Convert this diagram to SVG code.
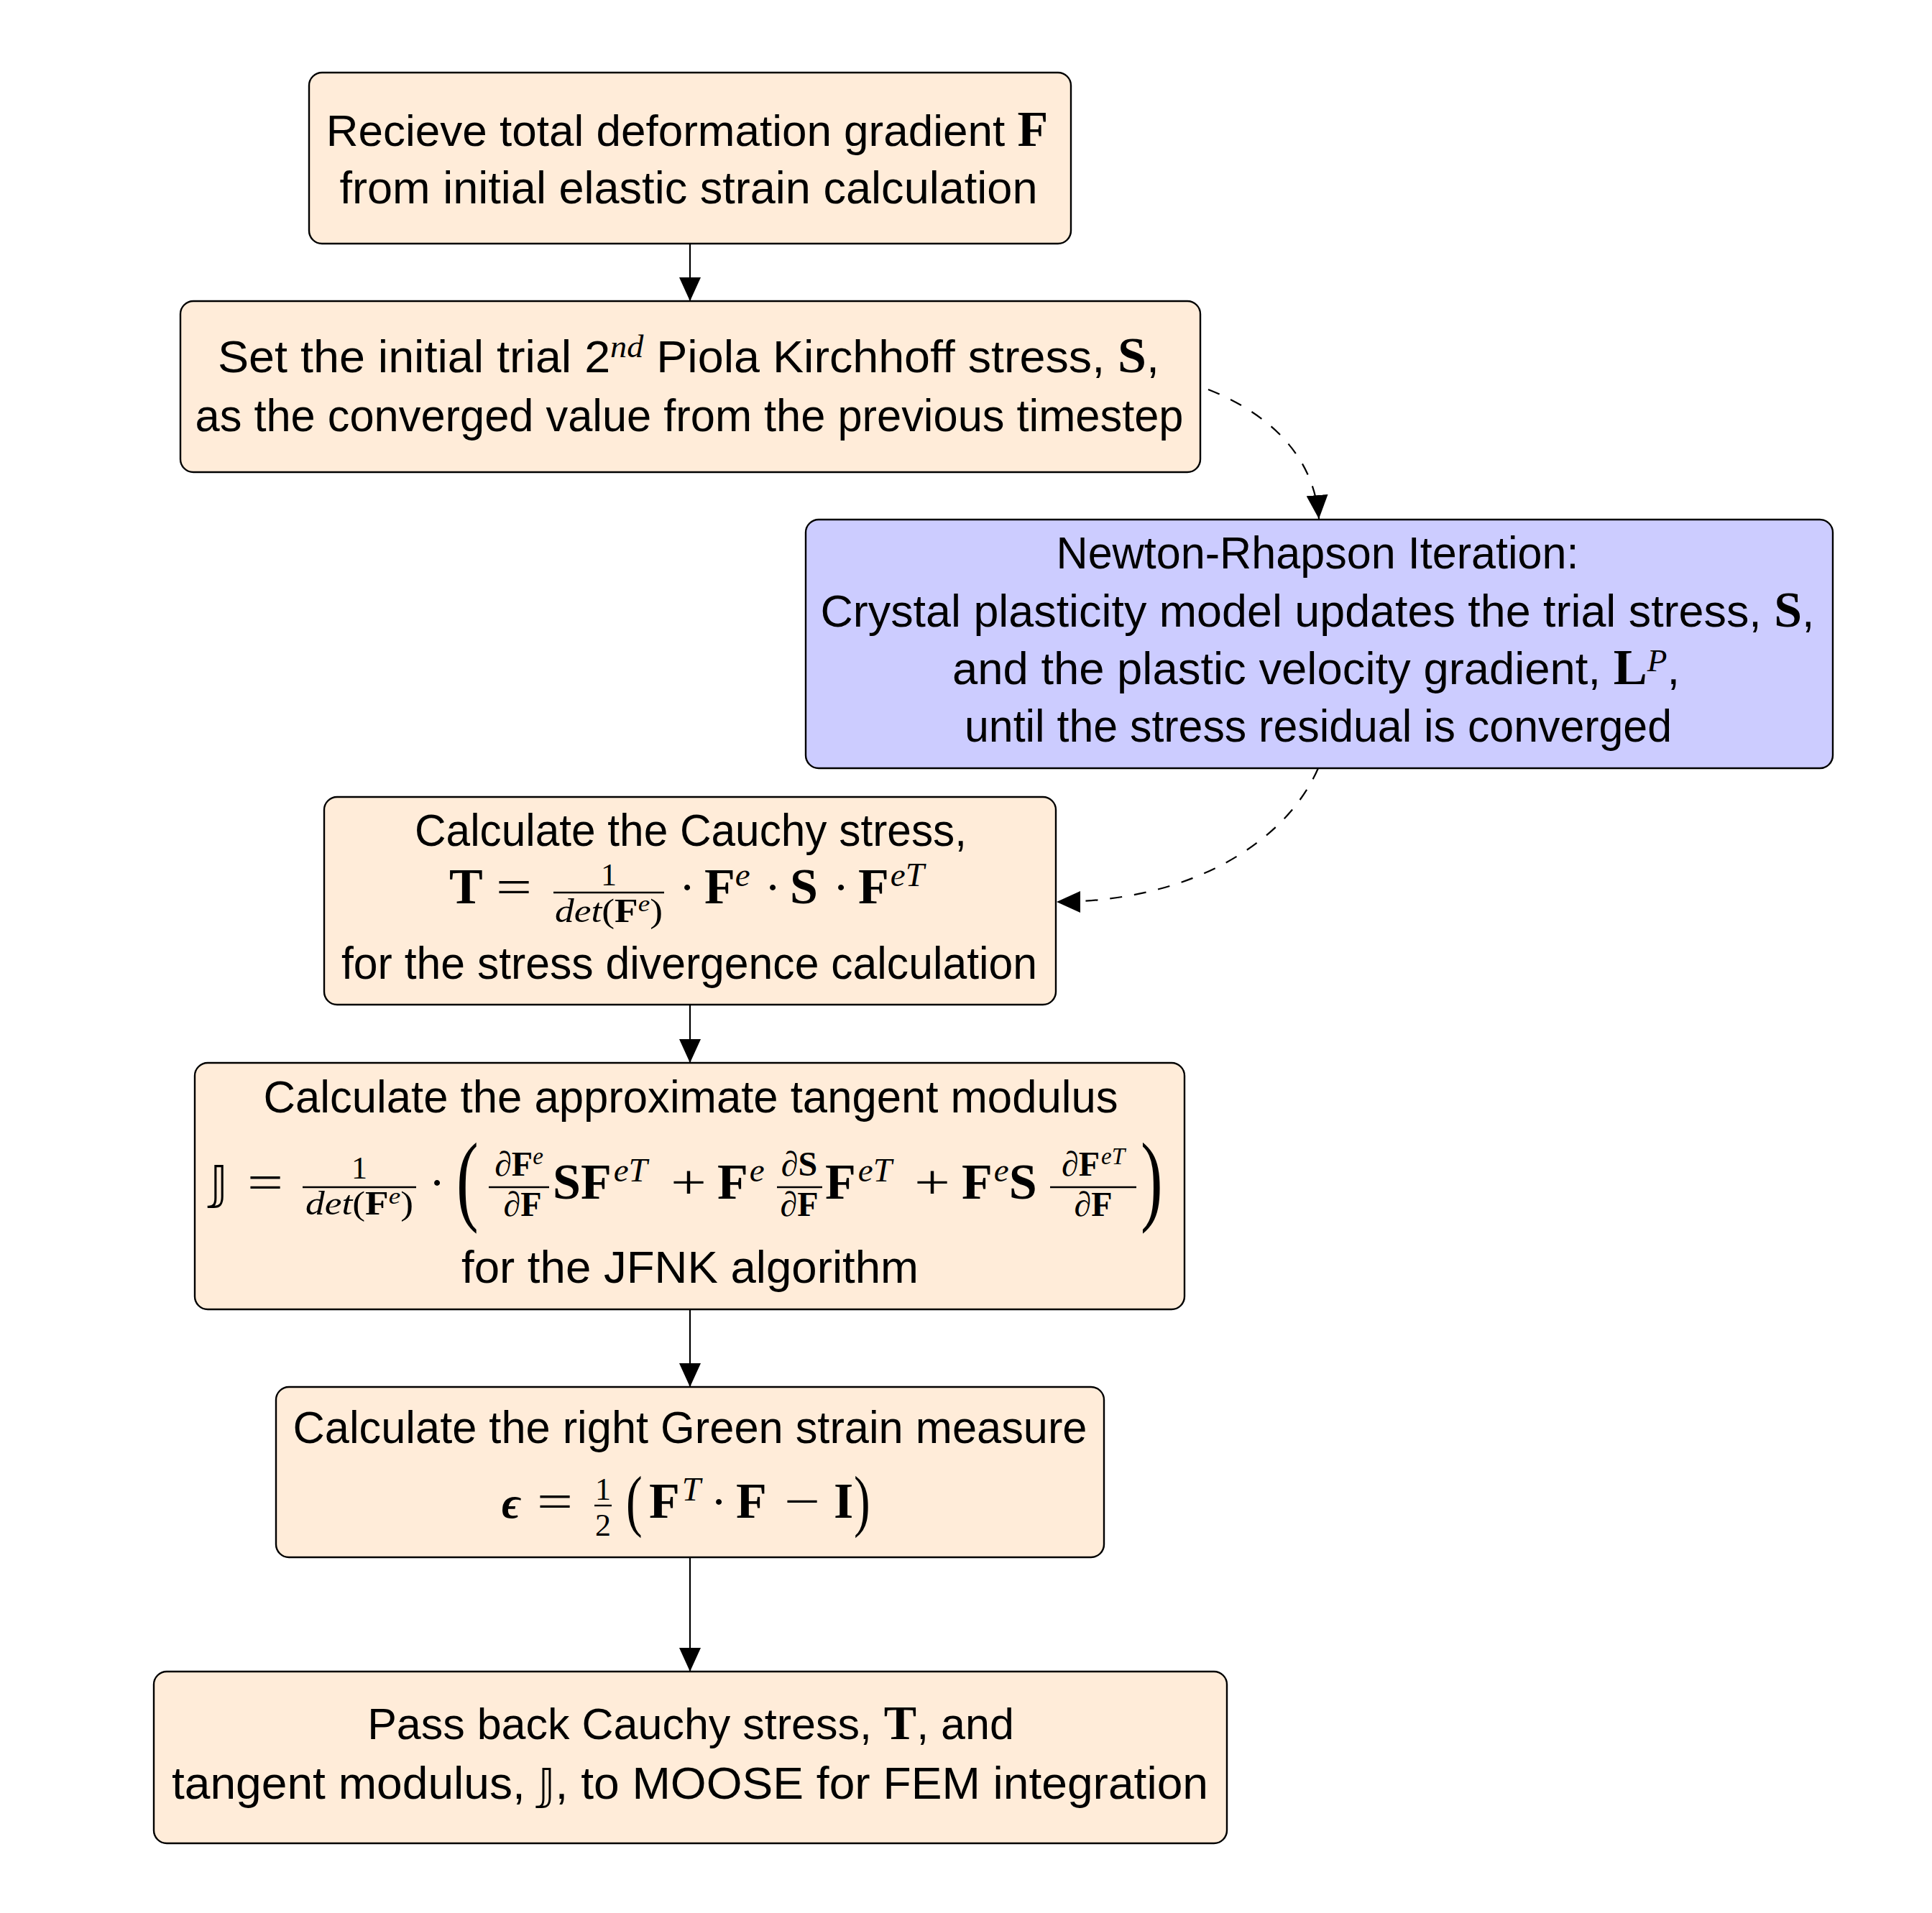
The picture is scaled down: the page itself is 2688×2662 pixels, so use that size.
<svg xmlns="http://www.w3.org/2000/svg" width="2688" height="2662" viewBox="0 0 2688 2662">
<defs>
<style>
.box{stroke:#000;stroke-width:2.4}
.peach{fill:#FFECD9}
.blue{fill:#CCCCFF}
text{fill:#000}
.t{font-family:"Liberation Sans",Arial,sans-serif;font-size:63px;text-anchor:middle}
.b{font-family:"Liberation Serif","Times New Roman",serif;font-weight:bold;font-style:normal}
.i{font-family:"Liberation Serif","Times New Roman",serif;font-style:italic;font-weight:normal}
.r{font-family:"Liberation Serif","Times New Roman",serif;font-weight:normal;font-style:normal}
.bb{font-family:"DejaVu Sans","DejaVu Serif",sans-serif;font-weight:normal}
.eps{font-family:"Liberation Serif","DejaVu Serif",serif;font-weight:bold;font-style:italic}
.mid{text-anchor:middle}
.conn{fill:none;stroke:#000;stroke-width:2.2}
.dash{stroke-dasharray:17 17}
.frac{stroke:#000;stroke-width:2.4}
</style>
<marker id="ah" markerUnits="userSpaceOnUse" markerWidth="34" markerHeight="30" refX="33" refY="15" orient="auto" viewBox="0 0 34 30"><path d="M0,0 L33,15 L0,30 z" fill="#000"/></marker>
</defs>
<rect width="2688" height="2662" fill="#fff"/>

<g id="connectors">
<path class="conn" d="M960,339 L960,419" marker-end="url(#ah)"/>
<path class="conn dash" d="M1681,542 C1757,572 1828,628 1835,722" marker-end="url(#ah)"/>
<path class="conn dash" d="M1834,1069 C1790,1170 1660,1255 1470,1255" marker-end="url(#ah)"/>
<path class="conn" d="M960,1398 L960,1479" marker-end="url(#ah)"/>
<path class="conn" d="M960,1822 L960,1930" marker-end="url(#ah)"/>
<path class="conn" d="M960,2167 L960,2326" marker-end="url(#ah)"/>
</g>

<g id="n1">
<rect class="box peach" x="430" y="101" width="1060" height="238" rx="18"/>
<text class="t" x="956" y="203" font-size="62" style="font-size:62px">Recieve total deformation gradient <tspan class="b" font-size="70">F</tspan></text>
<text class="t" x="958" y="283" textLength="971" lengthAdjust="spacingAndGlyphs">from initial elastic strain calculation</text>
</g>

<g id="n2">
<rect class="box peach" x="251" y="419" width="1419" height="238" rx="18"/>
<text class="t" x="958" y="518" textLength="1310" lengthAdjust="spacingAndGlyphs">Set the initial trial 2<tspan class="i" font-size="45" dy="-21">nd</tspan><tspan dy="21"> Piola Kirchhoff stress, </tspan><tspan class="b" font-size="70">S</tspan>,</text>
<text class="t" x="959" y="600" textLength="1375" lengthAdjust="spacingAndGlyphs">as the converged value from the previous timestep</text>
</g>

<g id="n3">
<rect class="box blue" x="1121" y="723" width="1429" height="346" rx="18"/>
<text class="t" x="1833" y="791" textLength="727" lengthAdjust="spacingAndGlyphs">Newton-Rhapson Iteration:</text>
<text class="t" x="1833" y="872" textLength="1383" lengthAdjust="spacingAndGlyphs">Crystal plasticity model updates the trial stress, <tspan class="b" font-size="70">S</tspan>,</text>
<text class="t" x="1831" y="952" textLength="1012" lengthAdjust="spacingAndGlyphs">and the plastic velocity gradient, <tspan class="b" font-size="70">L</tspan><tspan class="i" font-size="45" dy="-18">P</tspan><tspan dy="18">,</tspan></text>
<text class="t" x="1834" y="1032" textLength="984" lengthAdjust="spacingAndGlyphs">until the stress residual is converged</text>
</g>

<g id="n4">
<rect class="box peach" x="451" y="1109" width="1018" height="289" rx="18"/>
<text class="t" x="961" y="1177" textLength="768" lengthAdjust="spacingAndGlyphs">Calculate the Cauchy stress,</text>
<text class="b" x="625" y="1257" font-size="70">T</text>
<text class="r mid" x="715" y="1257" font-size="68" textLength="50" lengthAdjust="spacingAndGlyphs">=</text>
<text class="r mid" x="847" y="1232" font-size="44">1</text>
<line class="frac" x1="770" y1="1242" x2="924" y2="1242"/>
<text x="847" y="1283" font-size="46" class="mid" textLength="150" lengthAdjust="spacingAndGlyphs"><tspan class="i">det</tspan><tspan class="r">(</tspan><tspan class="b">F</tspan><tspan class="i" font-size="32" dy="-15">e</tspan><tspan class="r" dy="15">)</tspan></text>
<text class="r mid" x="956" y="1257" font-size="68">·</text>
<text x="980" y="1257" font-size="70"><tspan class="b">F</tspan><tspan class="i" font-size="47" dy="-24">e</tspan></text>
<text class="r mid" x="1075" y="1257" font-size="68">·</text>
<text class="b" x="1099" y="1257" font-size="70">S</text>
<text class="r mid" x="1170" y="1257" font-size="68">·</text>
<text x="1194" y="1257" font-size="70"><tspan class="b">F</tspan><tspan class="i" font-size="47" dy="-24" dx="2">eT</tspan></text>
<text class="t" x="959" y="1362" textLength="968" lengthAdjust="spacingAndGlyphs">for the stress divergence calculation</text>
</g>

<g id="n5">
<rect class="box peach" x="271" y="1479" width="1377" height="343" rx="18"/>
<text class="t" x="961" y="1548" textLength="1189" lengthAdjust="spacingAndGlyphs">Calculate the approximate tangent modulus</text>
<text class="bb" x="292" y="1668" font-size="64">𝕁</text>
<text class="r mid" x="369" y="1668" font-size="68" textLength="50" lengthAdjust="spacingAndGlyphs">=</text>
<text class="r mid" x="500" y="1640" font-size="44">1</text>
<line class="frac" x1="421" y1="1652" x2="579" y2="1652"/>
<text x="500" y="1690" font-size="46" class="mid" textLength="150" lengthAdjust="spacingAndGlyphs"><tspan class="i">det</tspan><tspan class="r">(</tspan><tspan class="b">F</tspan><tspan class="i" font-size="32" dy="-15">e</tspan><tspan class="r" dy="15">)</tspan></text>
<text class="r mid" x="608" y="1668" font-size="68">·</text>
<text class="r" font-size="80" transform="translate(635,1687) scale(1.15,1.75)">(</text>
<text x="722" y="1636" font-size="48" class="mid"><tspan class="r">∂</tspan><tspan class="b">F</tspan><tspan class="i" font-size="33" dy="-16">e</tspan></text>
<line class="frac" x1="680" y1="1652" x2="764" y2="1652"/>
<text x="727" y="1692" font-size="48" class="mid"><tspan class="r">∂</tspan><tspan class="b">F</tspan></text>
<text y="1668" font-size="70"><tspan class="b" x="769">SF</tspan><tspan class="i" font-size="47" dy="-24" dx="3">eT</tspan></text>
<text class="r mid" x="958" y="1668" font-size="68" textLength="50" lengthAdjust="spacingAndGlyphs">+</text>
<text y="1668" font-size="70"><tspan class="b" x="998">F</tspan><tspan class="i" font-size="47" dy="-24" dx="2">e</tspan></text>
<text x="1112" y="1636" font-size="48" class="mid"><tspan class="r">∂</tspan><tspan class="b">S</tspan></text>
<line class="frac" x1="1081" y1="1652" x2="1144" y2="1652"/>
<text x="1112" y="1692" font-size="48" class="mid"><tspan class="r">∂</tspan><tspan class="b">F</tspan></text>
<text y="1668" font-size="70"><tspan class="b" x="1148">F</tspan><tspan class="i" font-size="47" dy="-24" dx="3">eT</tspan></text>
<text class="r mid" x="1297" y="1668" font-size="68" textLength="50" lengthAdjust="spacingAndGlyphs">+</text>
<text y="1668" font-size="70"><tspan class="b" x="1338">F</tspan><tspan class="i" font-size="47" dy="-24" dx="2">e</tspan><tspan class="b" dy="24">S</tspan></text>
<text x="1521" y="1636" font-size="48" class="mid"><tspan class="r">∂</tspan><tspan class="b">F</tspan><tspan class="i" font-size="33" dy="-16" dx="2">eT</tspan></text>
<line class="frac" x1="1461" y1="1652" x2="1581" y2="1652"/>
<text x="1521" y="1692" font-size="48" class="mid"><tspan class="r">∂</tspan><tspan class="b">F</tspan></text>
<text class="r" font-size="80" transform="translate(1587,1687) scale(1.15,1.75)">)</text>
<text class="t" x="960" y="1785" textLength="636" lengthAdjust="spacingAndGlyphs">for the JFNK algorithm</text>
</g>

<g id="n6">
<rect class="box peach" x="384" y="1930" width="1152" height="237" rx="18"/>
<text class="t" x="960" y="2008" textLength="1105" lengthAdjust="spacingAndGlyphs">Calculate the right Green strain measure</text>
<text class="eps" x="698" y="2112" font-size="62">ϵ</text>
<text class="r mid" x="772" y="2112" font-size="68" textLength="50" lengthAdjust="spacingAndGlyphs">=</text>
<text class="r mid" x="839" y="2087" font-size="44">1</text>
<line class="frac" x1="827" y1="2095" x2="851" y2="2095"/>
<text class="r mid" x="839" y="2137" font-size="44">2</text>
<text class="r" font-size="68" transform="translate(871,2120) scale(1,1.41)">(</text>
<text y="2112" font-size="70"><tspan class="b" x="903">F</tspan><tspan class="i" font-size="47" dy="-24" dx="3">T</tspan></text>
<text class="r mid" x="1000" y="2112" font-size="68">·</text>
<text class="b" x="1024" y="2112" font-size="70">F</text>
<text class="r mid" x="1116" y="2112" font-size="68" textLength="50" lengthAdjust="spacingAndGlyphs">−</text>
<text class="b" x="1160" y="2112" font-size="70">I</text>
<text class="r" font-size="68" transform="translate(1188,2120) scale(1,1.41)">)</text>
</g>

<g id="n7">
<rect class="box peach" x="214" y="2326" width="1493" height="239" rx="18"/>
<text class="t" x="961" y="2420" style="font-size:61px">Pass back Cauchy stress, <tspan class="b" font-size="68">T</tspan>, and</text>
<text class="t" x="960" y="2503" textLength="1442" lengthAdjust="spacingAndGlyphs">tangent modulus, <tspan class="bb" font-size="60">𝕁</tspan>, to MOOSE for FEM integration</text>
</g>
</svg>
